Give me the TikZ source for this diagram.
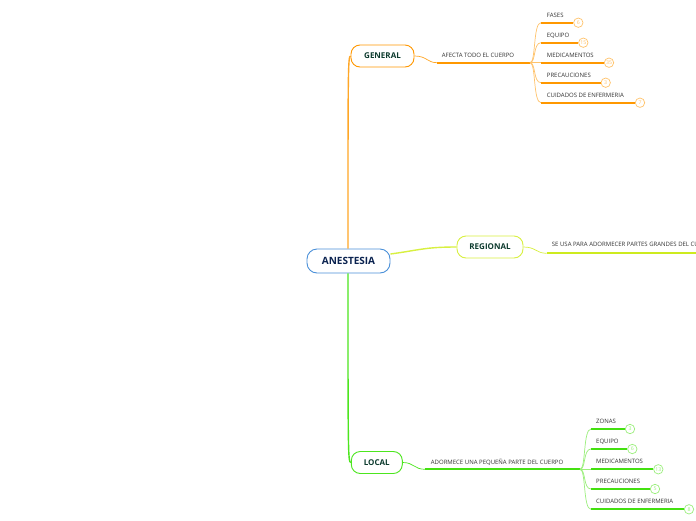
\documentclass[tikz,border=0pt]{standalone}
\usepackage{fontspec}
\setmainfont{Open Sans}
\definecolor{gline}{HTML}{FFA726}
\definecolor{gdark}{HTML}{FF9800}
\definecolor{glight}{HTML}{FFC36B}
\definecolor{lline}{HTML}{4CE61E}
\definecolor{ldark}{HTML}{44E010}
\definecolor{llight}{HTML}{9BEF7C}
\definecolor{yline}{HTML}{D8F040}
\definecolor{ydark}{HTML}{CDEB1E}
\definecolor{blueb}{HTML}{4A90D9}
\definecolor{navy}{HTML}{0B2350}
\definecolor{dgreen}{HTML}{0D3B2E}
\definecolor{txt}{HTML}{333333}
\begin{document}
\begin{tikzpicture}[x=1pt,y=-1pt,
  topic/.style={draw, rounded corners=9pt, fill=white, line width=0.9pt, text=dgreen,
    font=\bfseries\fontsize{8}{9}\selectfont, inner sep=0pt, minimum height=22pt},
  leaf/.style={inner sep=0pt, text=txt, font=\fontsize{6}{7}\selectfont, anchor=base west},
  badge/.style={circle, draw=#1, text=#1, fill=white, inner sep=0pt, minimum size=9.4pt,
    line width=0.7pt, font=\fontsize{5.2}{6}\selectfont},
  trunk/.style={line width=1.4pt, draw=#1},
  curve/.style={line width=0.7pt, draw=#1},
  under/.style={line width=1.7pt, draw=#1},
]
\useasboundingbox (0,0) rectangle (696,520);
\clip (0,0) rectangle (696,520);
\fill[white] (0,0) rectangle (696,520);

% main nodes
\node[draw=blueb, rounded corners=10pt, fill=white, line width=0.9pt, text=navy,
  font=\bfseries\fontsize{10}{11}\selectfont, inner sep=0pt, minimum width=83pt, minimum height=24pt]
  (anes) at (348.5,261) {ANESTESIA};
\node[topic, draw=gdark, minimum width=63pt] (gen) at (382.5,56) {GENERAL};
\node[topic, draw=yline, minimum width=66pt] (reg) at (490,247) {REGIONAL};
\node[topic, draw=lline, minimum width=51pt] (loc) at (376.8,462.5) {LOCAL};

% trunks
\draw[trunk=gline] (anes.north -| 348,0) .. controls (348,70) and (348,56) .. (gen.west);
\draw[trunk=lline] (anes.south -| 348,0) .. controls (348,452) and (348,462.5) .. (loc.west);
\draw[trunk=yline] ([yshift=7pt]anes.east) .. controls (420,250) and (425,247) .. (reg.west);

% GENERAL subtree
\node[leaf] (gsub) at (441.7,57.3) {AFECTA TODO EL CUERPO};
\coordinate (gB) at (530,62.7);
\draw[curve=gline] (gen.east) .. controls (427,56) and (427,62.7) .. (437,62.7);
\draw[under=gdark] (437,62.7) -- (gB);

\node[leaf] (g1) at (546.7,17.3) {FASES};
\node[leaf] (g2) at (546.7,37.3) {EQUIPO};
\node[leaf] (g3) at (546.7,57.3) {MEDICAMENTOS};
\node[leaf] (g4) at (546.7,77.3) {PRECAUCIONES};
\node[leaf] (g5) at (546.7,97.3) {CUIDADOS DE ENFERMERIA};
\foreach \n/\yy in {g1/22.7,g2/42.7,g3/62.7,g4/82.7,g5/102.7}{
  \draw[curve=glight] (gB) .. controls (536,62.7) and (533,\yy) .. (541,\yy);
}
\node[badge=glight] (g1b) at (578.3,22.7) {6};
\node[badge=glight] (g2b) at (583.3,42.7) {15};
\node[badge=glight] (g3b) at (609,62.7) {35};
\node[badge=glight] (g4b) at (605.7,82.7) {3};
\node[badge=glight] (g5b) at (640,102.7) {7};
\draw[under=gdark] (541,22.7) -- (g1b.west);
\draw[under=gdark] (541,42.7) -- (g2b.west);
\draw[under=gdark] (541,62.7) -- (g3b.west);
\draw[under=gdark] (541,82.7) -- (g4b.west);
\draw[under=gdark] (541,102.7) -- (g5b.west);

% REGIONAL subtree
\node[leaf] (rsub) at (551.7,246.7) {SE USA PARA ADORMECER PARTES GRANDES DEL CUERPO};
\coordinate (rE) at (720,253.3);
\draw[curve=yline] (reg.east) .. controls (536,247) and (536,253.3) .. (546.7,253.3);
\draw[under=ydark] (546.7,253.3) -- (rE);

% LOCAL subtree
\node[leaf] (lsub) at (430.7,464) {ADORMECE UNA PEQUEÑA PARTE DEL CUERPO};
\coordinate (lB) at (580,469.3);
\draw[curve=lline] (loc.east) .. controls (414,462.5) and (414,469.3) .. (425,469.3);
\draw[under=ldark] (425,469.3) -- (lB);

\node[leaf] (l1) at (596,423.3) {ZONAS};
\node[leaf] (l2) at (596,443.3) {EQUIPO};
\node[leaf] (l3) at (596,463.3) {MEDICAMENTOS};
\node[leaf] (l4) at (596,483.3) {PRECAUCIONES};
\node[leaf] (l5) at (596,503.3) {CUIDADOS DE ENFERMERIA};
\foreach \n/\yy in {l1/429,l2/449,l3/469.3,l4/489,l5/509.3}{
  \draw[curve=llight] (lB) .. controls (586,469.3) and (583,\yy) .. (591,\yy);
}
\node[badge=llight] (l1b) at (630,429) {3};
\node[badge=llight] (l2b) at (632.3,449) {6};
\node[badge=llight] (l3b) at (658.3,469.3) {13};
\node[badge=llight] (l4b) at (655,489) {5};
\node[badge=llight] (l5b) at (689,509.3) {8};
\draw[under=ldark] (591,429) -- (l1b.west);
\draw[under=ldark] (591,449) -- (l2b.west);
\draw[under=ldark] (591,469.3) -- (l3b.west);
\draw[under=ldark] (591,489) -- (l4b.west);
\draw[under=ldark] (591,509.3) -- (l5b.west);
\end{tikzpicture}
\end{document}
